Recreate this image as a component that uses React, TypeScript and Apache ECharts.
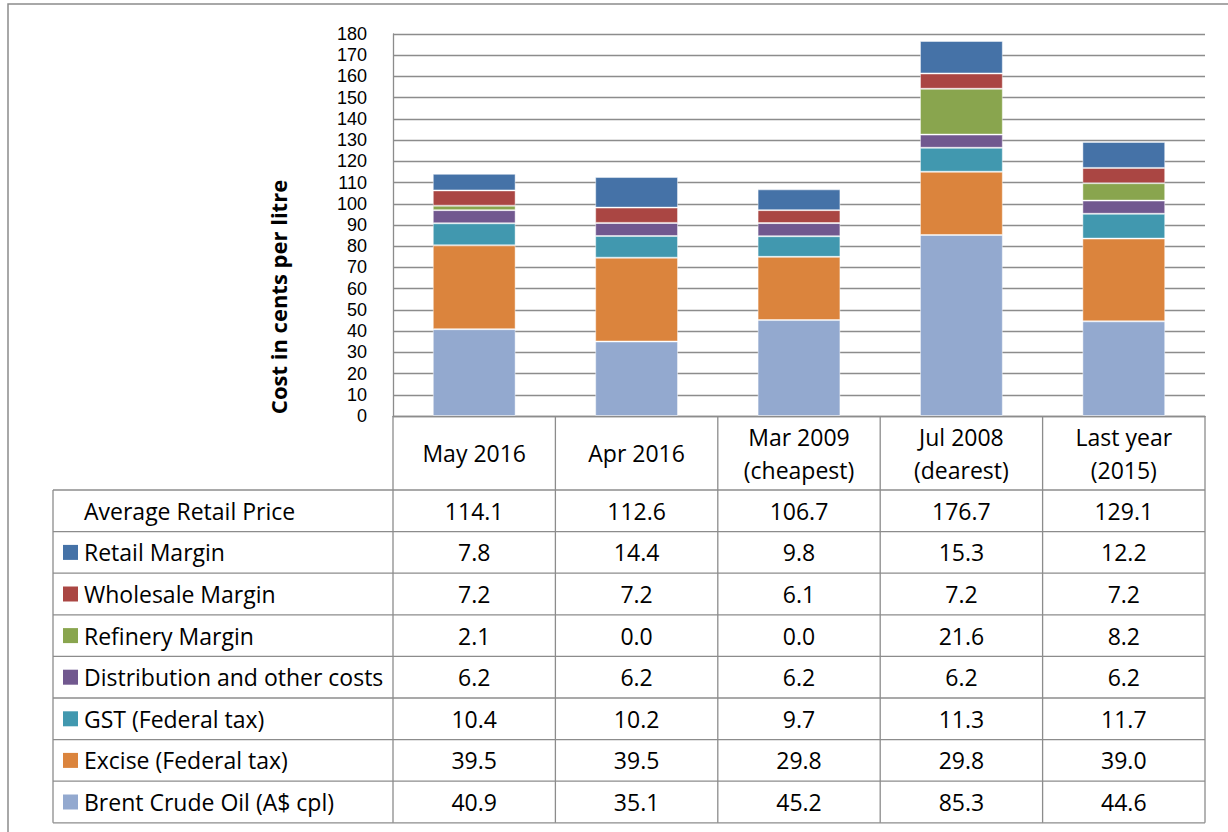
import React, { useEffect, useRef } from "react";
import * as echarts from "echarts";

const categories = [
  "May 2016",
  "Apr 2016",
  "Mar 2009\n(cheapest)",
  "Jul 2008\n(dearest)",
  "Last year\n(2015)",
];
const averageRetailPrice = [114.1, 112.6, 106.7, 176.7, 129.1];
const retailMargin = [7.8, 14.4, 9.8, 15.3, 12.2];
const wholesaleMargin = [7.2, 7.2, 6.1, 7.2, 7.2];
const refineryMargin = [2.1, 0.0, 0.0, 21.6, 8.2];
const distributionCosts = [6.2, 6.2, 6.2, 6.2, 6.2];
const gstTax = [10.4, 10.2, 9.7, 11.3, 11.7];
const exciseTax = [39.5, 39.5, 29.8, 29.8, 39.0];
const brentCrude = [40.9, 35.1, 45.2, 85.3, 44.6];

// Table rows (top to bottom) as in the data table
const tableRows = [
  { name: "Retail Margin", values: retailMargin, color: "#4572A7" },
  { name: "Wholesale Margin", values: wholesaleMargin, color: "#AA4643" },
  { name: "Refinery Margin", values: refineryMargin, color: "#89A54E" },
  { name: "Distribution and other costs", values: distributionCosts, color: "#71588F" },
  { name: "GST (Federal tax)", values: gstTax, color: "#4198AF" },
  { name: "Excise (Federal tax)", values: exciseTax, color: "#DB843D" },
  { name: "Brent Crude Oil (A$ cpl)", values: brentCrude, color: "#93A9CF" },
];

const FONT = "'Open Sans', 'Noto Sans', sans-serif";
const TICK_FONT = "'Liberation Sans', Arial, sans-serif";
const GRID_COLOR = "#8c8c8c";

export default function App() {
  const ref = useRef<HTMLDivElement>(null);

  useEffect(() => {
    if (!ref.current) return;
    const chart = echarts.init(ref.current, undefined, { renderer: "svg" });

    const plotLeft = 393;
    const plotRight = 1205;
    const plotTop = 34;
    const plotBottom = 416;
    const colW = (plotRight - plotLeft) / categories.length;
    const tableTop = 490;
    const rowH = 41.6;
    const tableLeft = 53;
    const nRows = tableRows.length + 1;
    const tableBottom = tableTop + rowH * nRows;

    const line = (x1: number, y1: number, x2: number, y2: number) => ({
      type: "line",
      shape: { x1, y1, x2, y2 },
      style: { stroke: GRID_COLOR, lineWidth: 1.3 },
      silent: true,
    });
    const text = (x: number, y: number, t: string, align: string, extra: any = {}) => ({
      type: "text",
      x,
      y,
      style: {
        text: t,
        fill: "#000",
        font: `23px ${FONT}`,
        align,
        verticalAlign: "middle",
        ...extra,
      },
      silent: true,
    });

    const graphics: any[] = [];
    // outer frame
    graphics.push({
      type: "rect",
      shape: { x: 8, y: 4, width: 1300, height: 900 },
      style: { stroke: GRID_COLOR, fill: "none", lineWidth: 1.5 },
      silent: true,
    });
    // vertical lines of the table
    graphics.push(line(plotLeft, plotBottom, plotLeft, tableBottom));
    for (let i = 1; i <= categories.length; i++) {
      const x = plotLeft + colW * i;
      graphics.push(line(x, plotBottom, x, tableBottom));
    }
    graphics.push(line(tableLeft, tableTop, tableLeft, tableBottom));
    // horizontal lines
    for (let r = 0; r <= nRows; r++) {
      const y = tableTop + rowH * r;
      graphics.push(line(tableLeft, y, plotRight, y));
    }
    // rows
    const allRows = [{ name: "Average Retail Price", values: averageRetailPrice, color: "" }, ...tableRows];
    allRows.forEach((row, r) => {
      const cy = tableTop + rowH * r + rowH / 2;
      if (row.color) {
        graphics.push({
          type: "rect",
          shape: { x: 63, y: cy - 7.5, width: 15, height: 15 },
          style: { fill: row.color },
          silent: true,
        });
      }
      graphics.push(text(84, cy, row.name, "left"));
      row.values.forEach((v, i) => {
        graphics.push(text(plotLeft + colW * (i + 0.5), cy, v.toFixed(1), "center"));
      });
    });
    // y axis title
    graphics.push({
      type: "text",
      x: 278,
      y: 297,
      rotation: Math.PI / 2,
      style: {
        text: "Cost in cents per litre",
        fill: "#000",
        font: `bold 22px ${FONT}`,
        align: "center",
        verticalAlign: "middle",
      },
      silent: true,
    });

    const stackOrder = [...tableRows].reverse();

    chart.setOption({
      animation: false,
      grid: {
        left: plotLeft,
        right: 1228 - plotRight,
        top: plotTop,
        bottom: 832 - plotBottom,
        containLabel: false,
      },
      xAxis: {
        type: "category",
        data: categories,
        axisLine: { show: true, lineStyle: { color: GRID_COLOR, width: 1.3 } },
        axisTick: { show: false },
        axisLabel: {
          interval: 0,
          margin: 37,
          verticalAlign: "middle",
          lineHeight: 33,
          color: "#000",
          fontSize: 23,
          fontFamily: FONT,
        },
      },
      yAxis: {
        type: "value",
        min: 0,
        max: 180,
        interval: 10,
        axisLine: { show: true, lineStyle: { color: GRID_COLOR, width: 1.3 } },
        axisTick: { show: false },
        splitLine: { show: true, lineStyle: { color: GRID_COLOR, width: 1.3 } },
        axisLabel: {
          margin: 26,
          color: "#000",
          fontSize: 18,
          fontFamily: TICK_FONT,
          lineHeight: 18,
          showMinLabel: true,
          showMaxLabel: true,
          hideOverlap: false,
        },
      },
      series: stackOrder.map((s) => ({
        name: s.name,
        type: "bar",
        stack: "total",
        data: s.values,
        barCategoryGap: "49%",
        itemStyle: {
          color: s.color,
          borderColor: "rgba(255,255,255,0.45)",
          borderWidth: 1,
        },
      })),
      graphic: graphics,
    });

    return () => chart.dispose();
  }, []);

  return (
    <div
      ref={ref}
      style={{ position: "absolute", left: 0, top: 0, width: 1228, height: 832, background: "#fff" }}
    />
  );
}
